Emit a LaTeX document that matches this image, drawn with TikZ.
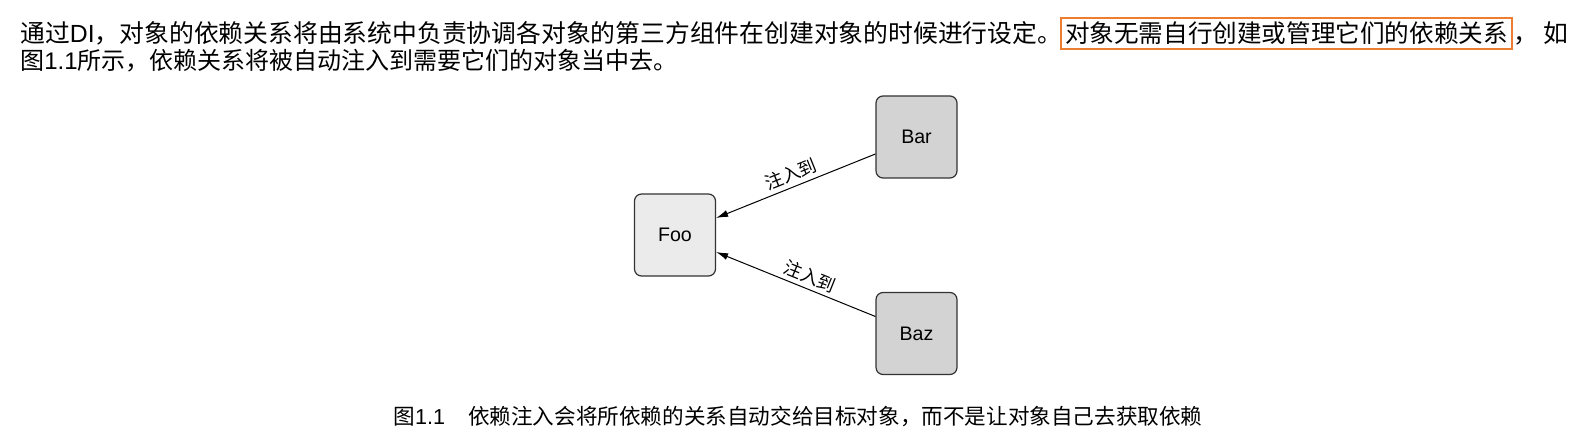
\documentclass[tikz,border=0pt]{standalone}
\usepackage{fontspec}
\setmainfont{Liberation Sans}
\newfontfamily\cjk{Noto Sans CJK SC}
\usetikzlibrary{arrows.meta,positioning}
\definecolor{beangray}{RGB}{211,211,211}
\definecolor{foogray}{RGB}{235,235,235}
\definecolor{markorange}{RGB}{237,125,49}

\begin{document}
\begin{tikzpicture}[x=0.5pt,y=-0.5pt,
  txt/.style={inner sep=0pt, anchor=west, font=\cjk\fontsize{12.4}{14}\selectfont},
  bean/.style={draw=black!80, line width=0.6pt, rounded corners=3.5pt, minimum width=40.5pt, minimum height=41pt, font=\fontsize{9.8}{11}\selectfont},
  inject/.style={arrows={Latex[length=6pt,width=3.5pt]-}, line width=0.5pt},
  lbl/.style={font=\cjk\fontsize{9}{11}\selectfont, sloped, above, inner sep=2pt}]
\useasboundingbox (0,0) rectangle (1590,437);

% paragraph
\node[txt] (p1a) at (20,33) {通过{\rmfamily DI}，对象的依赖关系将由系统中负责协调各对象的第三方组件在创建对象的时候进行设定。};
\node[txt, draw=markorange, line width=1pt, inner xsep=2pt, minimum height=15.5pt, font=\cjk\fontsize{12.3}{14}\selectfont] (p1b) at (1060,33.5) {对象无需自行创建或管理它们的依赖关系};
\node[txt] (p1c) at (p1b.east) {，\hspace{3pt}如};
\node[txt, font=\cjk\fontsize{12}{14}\selectfont] (p2) at (20,61) {图{\rmfamily 1.1}所示，依赖关系将被自动注入到需要它们的对象当中去。};

% beans
\node[bean, fill=foogray] (foo) at (675,235) {Foo};
\node[bean, fill=beangray] (bar) at (916.5,137) {Bar};
\node[bean, fill=beangray] (baz) at (916.5,333.5) {Baz};

\draw[inject] ([yshift=8.5pt]foo.east) -- node[lbl] {注入到} ([yshift=-8.5pt]bar.west);
\draw[inject] ([yshift=-8.5pt]foo.east) -- node[lbl, pos=0.56] {注入到} ([yshift=8.5pt]baz.west);

% caption
\node[txt, font=\cjk\fontsize{10.8}{13}\selectfont] (cap) at (393,416) {图{\rmfamily 1.1}\hspace{11.5pt}依赖注入会将所依赖的关系自动交给目标对象，而不是让对象自己去获取依赖};
\end{tikzpicture}
\end{document}
